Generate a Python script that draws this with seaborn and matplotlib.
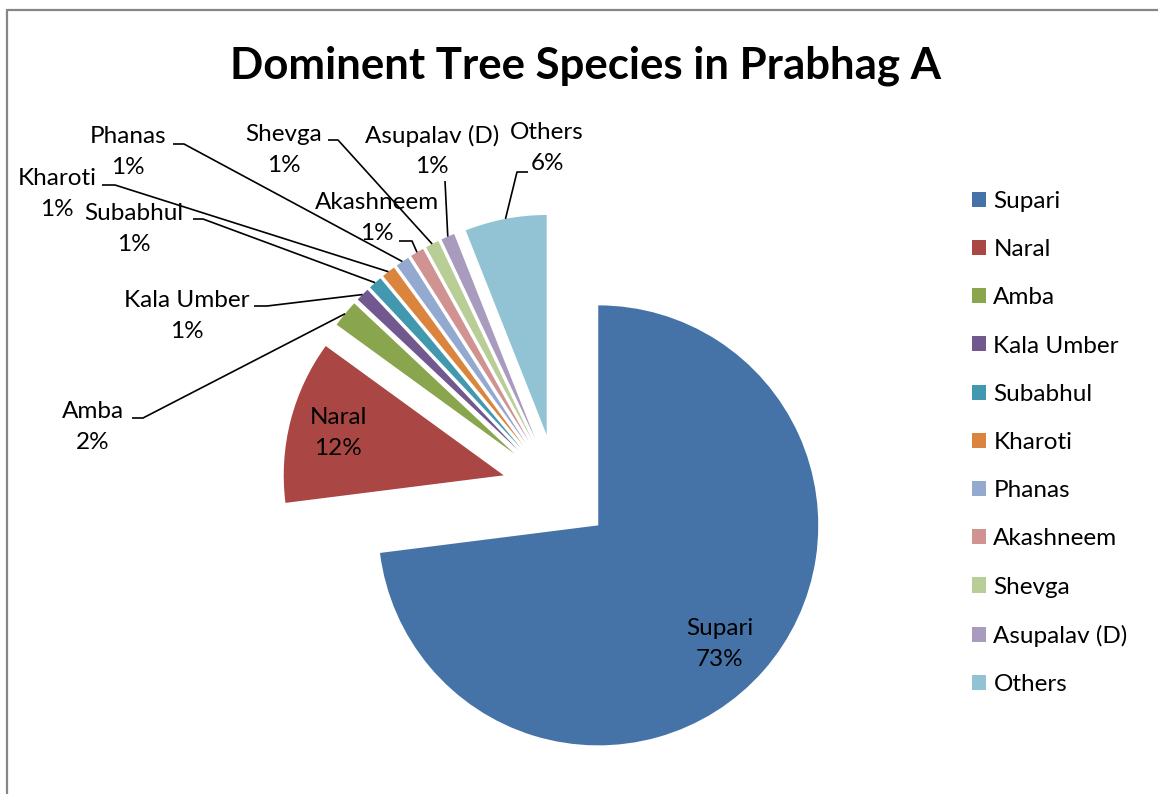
import numpy as np
import matplotlib
matplotlib.use("Agg")
import matplotlib.pyplot as plt
import seaborn as sns
from matplotlib.lines import Line2D

# data
species = ["Supari", "Naral", "Amba", "Kala Umber", "Subabhul", "Kharoti",
           "Phanas", "Akashneem", "Shevga", "Asupalav (D)", "Others"]
share = [73, 12, 2, 1, 1, 1, 1, 1, 1, 1, 6]
colours = ["#4572A7", "#AA4643", "#89A54E", "#71588F", "#4198AF", "#DB843D",
           "#93A9CF", "#D19392", "#B9CD96", "#A99BBD", "#92C3D5"]
title = "Dominent Tree Species in Prabhag A"

sns.set_theme(style="white")
plt.rcParams["font.family"] = ["Lato", "DejaVu Sans"]
plt.rcParams["text.color"] = "black"

# -------------------------
# layout (pixels of the 1158x794 picture)
# -------------------------
W, H = 1158, 794
CX, CY, R = 557, 489, 220

label_pos = {
    "Supari": (720, 644), "Naral": (338, 433), "Amba": (93, 427),
    "Kala Umber": (187, 316), "Subabhul": (134, 229), "Kharoti": (57, 194),
    "Phanas": (128, 152), "Akashneem": (377, 218), "Shevga": (284, 150),
    "Asupalav (D)": (432, 151), "Others": (547, 148),
}
# leader line: start near text, elbow
leaders = {
    "Amba": ((132, 418), (143, 418)),
    "Kala Umber": ((254, 306), (267, 306)),
    "Subabhul": ((193, 219), (203, 219)),
    "Kharoti": ((102, 185), (115, 185)),
    "Phanas": ((173, 144), (184, 144)),
    "Akashneem": ((399, 241), (412, 241)),
    "Shevga": ((328, 140), (338, 140)),
    "Asupalav (D)": ((445, 181), (445, 181)),
    "Others": ((528, 172), (517, 172)),
}


def to_data(x, y):
    return (x - CX) / R, (CY - y) / R


fig = plt.figure(figsize=(W / 100, H / 100), dpi=100)
ax = fig.add_axes([0, 0, 1, 1])

wedges, _ = ax.pie(share, explode=[0.25] * len(share), colors=colours,
                   startangle=90, counterclock=False,
                   wedgeprops=dict(linewidth=0))
ax.set_xlim(-CX / R, (W - CX) / R)
ax.set_ylim(-(H - CY) / R, CY / R)
ax.set_aspect("auto")
ax.axis("off")

for w, name, v in zip(wedges, species, share):
    tx, ty = to_data(*label_pos[name])
    ax.text(tx, ty, f"{name}\n{v}%", ha="center", va="center",
            fontsize=17.5, linespacing=1.55, color="black")
    if name in leaders:
        mid = np.deg2rad((w.theta1 + w.theta2) / 2)
        target = (w.center[0] + w.r * np.cos(mid), w.center[1] + w.r * np.sin(mid))
        p0 = to_data(*leaders[name][0])
        p1 = to_data(*leaders[name][1])
        ax.plot([p0[0], p1[0], target[0]], [p0[1], p1[1], target[1]],
                color="black", lw=1.2, solid_capstyle="butt")

fig.text(585 / W, 1 - 78 / H, title, ha="center", va="baseline",
         fontsize=31.5, fontweight="bold", color="black")

ax.legend(wedges, species, loc="center left",
          bbox_to_anchor=(972 / W, 1 - 443 / H), bbox_transform=fig.transFigure,
          frameon=False, fontsize=17.5, handlelength=0.58, handleheight=0.58,
          handletextpad=0.3, labelspacing=1.12, borderpad=0, borderaxespad=0)

# chart border (left and top edges visible)
fig.add_artist(Line2D([7.5 / W, 7.5 / W], [0, 1 - 9.5 / H], color="#868686",
                      lw=1.6, transform=fig.transFigure))
fig.add_artist(Line2D([7.5 / W, 1], [1 - 9.5 / H, 1 - 9.5 / H], color="#868686",
                      lw=1.6, transform=fig.transFigure))

fig.savefig("out.png", dpi=100, facecolor="white")
